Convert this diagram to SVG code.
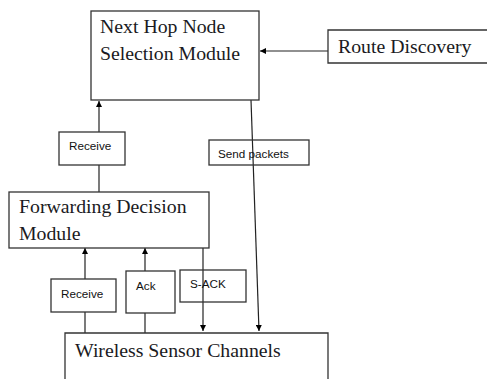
<svg xmlns="http://www.w3.org/2000/svg" width="487" height="379" viewBox="0 0 487 379">
<style>
.box{fill:#fff;stroke:#333;stroke-width:1.3}
.big{font-family:"Liberation Serif",serif;font-size:19.8px;fill:#1a1a22}
.small{font-family:"Liberation Sans",sans-serif;font-size:11.7px;fill:#111}
.ln{stroke:#222;stroke-width:1.2;fill:none}
</style>
<defs>
<marker id="ah" viewBox="0 0 10 10" refX="10" refY="5" markerWidth="6" markerHeight="6" markerUnits="userSpaceOnUse" orient="auto">
<path d="M0,0 L10,5 L0,10 z" fill="#000"/>
</marker>
</defs>
<rect width="487" height="379" fill="#fff"/>
<g id="connectors">
<line class="ln" x1="328" y1="51" x2="260" y2="51" marker-end="url(#ah)"/>
<line class="ln" x1="99" y1="132" x2="99" y2="101" marker-end="url(#ah)"/>
<line class="ln" x1="99" y1="165" x2="99" y2="192"/>
<line class="ln" x1="251" y1="100" x2="259" y2="331" marker-end="url(#ah)"/>
<line class="ln" x1="85" y1="279" x2="85" y2="248" marker-end="url(#ah)"/>
<line class="ln" x1="85" y1="312" x2="85" y2="333"/>
<line class="ln" x1="145" y1="271" x2="145" y2="248" marker-end="url(#ah)"/>
<line class="ln" x1="145" y1="313" x2="145" y2="333"/>
<line class="ln" x1="203" y1="248" x2="203" y2="331" marker-end="url(#ah)"/>
</g>
<g id="next-hop">
<rect class="box" x="91" y="11" width="168" height="89"/>
<text class="big" x="100" y="33">Next Hop Node</text>
<text class="big" x="100" y="60">Selection Module</text>
</g>
<g id="route-discovery">
<path class="box" d="M487,30 H328 V63 H487"/>
<text class="big" x="338" y="53">Route Discovery</text>
</g>
<g id="receive-top">
<rect class="box" x="59" y="132" width="66" height="33"/>
<text class="small" x="69" y="150">Receive</text>
</g>
<g id="send-packets">
<rect class="box" x="209" y="140" width="100" height="25" fill-opacity="0"/>
<text class="small" x="218" y="158">Send packets</text>
</g>
<g id="forwarding">
<rect class="box" x="9" y="192" width="200" height="56"/>
<text class="big" x="19" y="213">Forwarding Decision</text>
<text class="big" x="19" y="240">Module</text>
</g>
<g id="receive-bottom">
<rect class="box" x="51" y="279" width="65" height="33"/>
<text class="small" x="61" y="298">Receive</text>
</g>
<g id="ack">
<rect class="box" x="126" y="271" width="49" height="42"/>
<text class="small" x="136" y="290">Ack</text>
</g>
<g id="s-ack">
<rect class="box" x="180" y="270" width="66" height="32" style="fill:none"/>
<text class="small" x="190" y="288">S-ACK</text>
</g>
<g id="wireless">
<path class="box" d="M65,379 V333 H328 V379"/>
<text class="big" x="75" y="357">Wireless Sensor Channels</text>
</g>
</svg>
